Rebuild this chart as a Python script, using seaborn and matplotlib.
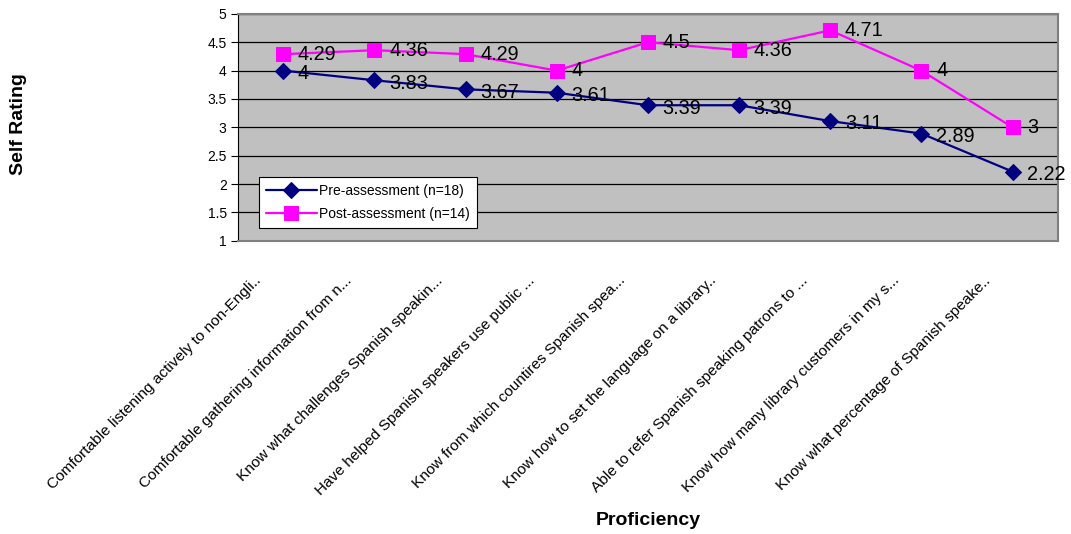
import matplotlib
matplotlib.use("Agg")
import matplotlib.pyplot as plt
from matplotlib.ticker import MultipleLocator, FixedLocator, FuncFormatter
import seaborn as sns
import pandas as pd

categories = [
    "Comfortable listening actively to non-Engli..",
    "Comfortable gathering information from n...",
    "Know what challenges Spanish speakin...",
    "Have helped Spanish speakers use public ...",
    "Know from which countires Spanish spea...",
    "Know how to set the language on a library..",
    "Able to refer Spanish speaking patrons to ...",
    "Know how many library customers in my s...",
    "Know what percentage of Spanish speake..",
]
pre_values = [4, 3.83, 3.67, 3.61, 3.39, 3.39, 3.11, 2.89, 2.22]
post_values = [4.29, 4.36, 4.29, 4, 4.5, 4.36, 4.71, 4, 3]
series_names = ["Pre-assessment (n=18)", "Post-assessment (n=14)"]

sns.set_theme(style="white")
plt.rcParams["font.family"] = ["Liberation Sans", "DejaVu Sans"]
plt.rcParams["text.color"] = "black"
plt.rcParams["xtick.color"] = "black"
plt.rcParams["ytick.color"] = "black"
plt.rcParams["axes.labelcolor"] = "black"

fig = plt.figure(figsize=(10.71, 5.34), dpi=100)
ax = fig.add_axes([0.222, 0.549, 0.766, 0.425])
ax.set_facecolor("#C0C0C0")

pos = list(range(len(categories)))
df_pre = pd.DataFrame({"x": pos, "y": pre_values})
df_post = pd.DataFrame({"x": pos, "y": post_values})

sns.lineplot(data=df_pre, x="x", y="y", ax=ax, color="#000080", marker="D",
             markersize=8.5, markeredgecolor="#000080", linewidth=1.6,
             label=series_names[0], zorder=3)
sns.lineplot(data=df_post, x="x", y="y", ax=ax, color="#FF00FF", marker="s",
             markersize=10, markeredgecolor="#FF00FF", linewidth=1.6,
             label=series_names[1], zorder=3)

for x, v in zip(pos, pre_values):
    ax.annotate(f"{v:g}", (x, v), xytext=(10.5, -2), textcoords="offset points",
                ha="left", va="center", fontsize=14.3, color="black", zorder=4)
for x, v in zip(pos, post_values):
    ax.annotate(f"{v:g}", (x, v), xytext=(10.5, 0), textcoords="offset points",
                ha="left", va="center", fontsize=14.3, color="black", zorder=4)

ax.set_xlim(-0.5, len(categories) - 0.5)
ax.set_ylim(1, 5)
ax.yaxis.set_major_locator(MultipleLocator(0.5))
ax.yaxis.set_major_formatter(FuncFormatter(lambda v, p: f"{v:g}"))
ax.grid(axis="y", color="black", linewidth=0.9)
ax.set_axisbelow(True)

# category labels sit slightly left of each category centre, ending under the axis
label_offset = 0.27
ax.set_xticks([p - label_offset for p in pos])
ax.set_xticklabels(categories, rotation=45, ha="right", va="center",
                   rotation_mode="anchor", fontsize=11.1)
ax.xaxis.set_minor_locator(FixedLocator([i - 0.5 for i in range(len(categories) + 1)]))
ax.tick_params(axis="x", which="major", length=0, pad=27)
ax.tick_params(axis="x", which="minor", length=5, width=0.8, color="black", direction="out")
ax.tick_params(axis="y", length=5, width=0.8, color="black", direction="out",
               labelsize=10, pad=3, left=True)

for side in ["top", "right", "bottom"]:
    ax.spines[side].set_color("#808080")
    ax.spines[side].set_linewidth(1.5)
ax.spines["left"].set_color("black")
ax.spines["left"].set_linewidth(0.8)

ax.set_xlabel("")
ax.set_ylabel("")
fig.text(0.605, 0.026, "Proficiency", ha="center", va="center",
         fontsize=14, fontweight="bold")
fig.text(0.0175, 0.768, "Self Rating", rotation=90, ha="center", va="center",
         fontsize=14, fontweight="bold")

leg = ax.legend(loc="lower left", bbox_to_anchor=(0.0256, 0.057), frameon=True,
                fancybox=False, fontsize=10, borderpad=0.5, labelspacing=0.67,
                handlelength=3.7, handletextpad=0.15, borderaxespad=0)
leg.get_frame().set_edgecolor("black")
leg.get_frame().set_facecolor("white")
leg.get_frame().set_linewidth(0.8)
leg.get_frame().set_alpha(1)

fig.savefig("out.png", dpi=100)
